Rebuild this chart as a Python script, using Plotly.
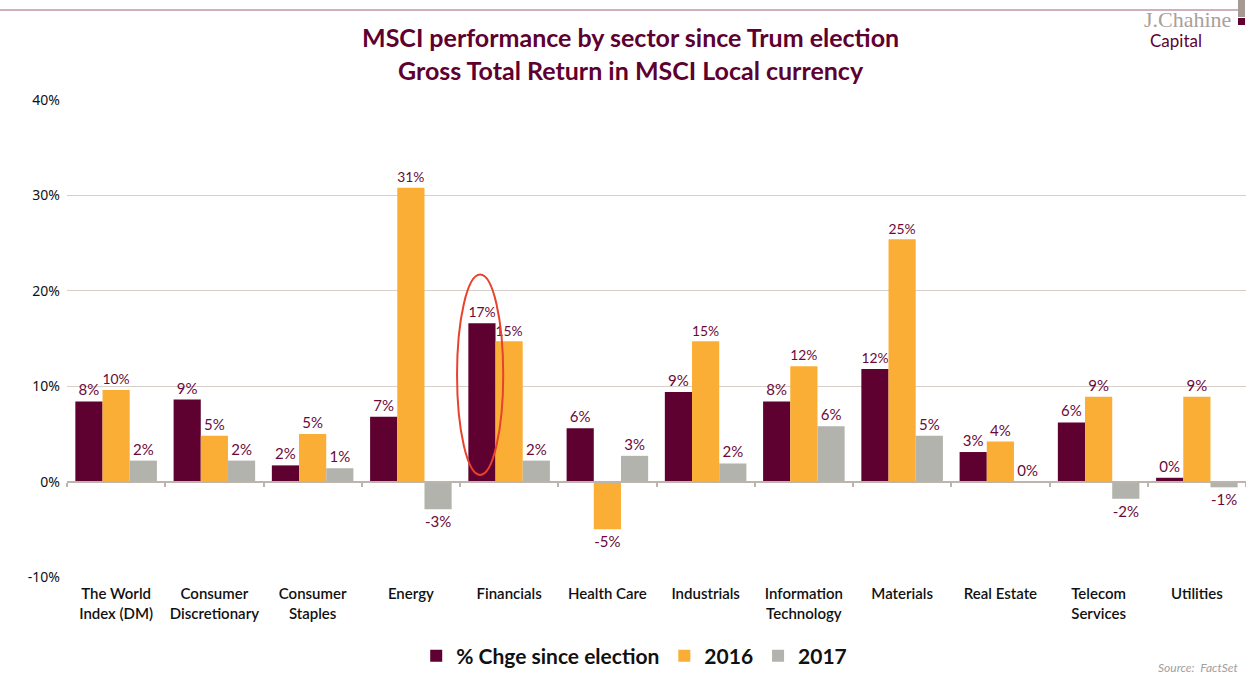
import plotly.graph_objects as go

categories = ["The World<br>Index (DM)", "Consumer<br>Discretionary", "Consumer<br>Staples", "Energy",
              "Financials", "Health Care", "Industrials", "Information<br>Technology", "Materials",
              "Real Estate", "Telecom<br>Services", "Utilities"]
chg_since_election = [8.4, 8.6, 1.7, 6.8, 16.6, 5.6, 9.4, 8.4, 11.8, 3.1, 6.2, 0.4]
y2016 = [9.6, 4.8, 5.0, 30.8, 14.7, -5.0, 14.7, 12.1, 25.4, 4.2, 8.9, 8.9]
y2017 = [2.2, 2.2, 1.4, -2.9, 2.2, 2.7, 1.9, 5.8, 4.8, 0.0, -1.8, -0.6]
y_ticks = [-10, 0, 10, 20, 30, 40]
y_tick_labels = ["-10%", "0%", "10%", "20%", "30%", "40%"]

MAROON = "#5E0030"
ORANGE = "#FBAE35"
GRAY = "#B3B3AD"
LABEL = "#6B0A3A"

W, H = 1246, 675
ML, MR, MT, MB = 67, 0, 100, 98
PW = W - ML - MR
PH = H - MT - MB


def px_x(px):
    return (px - ML) / PW


def px_y(py):
    return (H - MB - py) / PH


fig = go.Figure()
for name, vals, col in [("% Chge since election", chg_since_election, MAROON),
                        ("2016", y2016, ORANGE),
                        ("2017", y2017, GRAY)]:
    fig.add_trace(go.Bar(
        x=categories, y=vals, name=name, marker=dict(color=col, line=dict(width=0)),
        texttemplate="%{y:.0f}%", textposition="outside", cliponaxis=False,
        textfont=dict(family="Lato", size=15, color=LABEL),
    ))

# helper trace for zero-line axis with boundary ticks
fig.add_trace(go.Scatter(x=categories, y=[0] * len(categories), xaxis="x2", mode="markers",
                         marker=dict(opacity=0), showlegend=False, hoverinfo="skip"))

fig.update_layout(
    width=W, height=H,
    margin=dict(l=ML, r=MR, t=MT, b=MB),
    paper_bgcolor="white", plot_bgcolor="white",
    barmode="group", bargap=0.17, bargroupgap=0,
    font=dict(family="Lato", color="#222222"),
    xaxis=dict(type="category", range=[-0.5, 11.5], showgrid=False, showline=False, ticks="",
               tickfont=dict(family="Lato", size=15, color="#111111", weight=600), tickangle=0,
               ticklabelstandoff=6),
    xaxis2=dict(type="category", overlaying="x", anchor="free", position=0.2, range=[-0.5, 11.5],
                showline=True, linecolor="#BDB5AD", linewidth=2, ticks="outside", ticklen=4,
                tickcolor="#BDB5AD", tickwidth=2, tickson="boundaries", showticklabels=False,
                showgrid=False, side="bottom"),
    yaxis=dict(range=[-10, 40], tickvals=y_ticks, ticktext=y_tick_labels, showgrid=True,
               gridcolor="#D6CFCA", gridwidth=1, zeroline=False, showline=False,
               tickfont=dict(family="Noto Sans", size=14, color="#111111"), ticklabelstandoff=6),
    legend=dict(orientation="h", xref="container", yref="container", x=0.509, xanchor="center",
                y=1 - 656 / H, yanchor="middle", font=dict(family="Lato", size=21, color="#111111", weight="bold"),
                itemwidth=30, traceorder="normal"),
)

# title
fig.add_annotation(text="MSCI performance by sector since Trum election<br>Gross Total Return in MSCI Local currency",
                   xref="paper", yref="paper", x=px_x(630), y=px_y(20), xanchor="center", yanchor="top",
                   showarrow=False, align="center",
                   font=dict(family="Lato", size=25, color=MAROON, weight="bold"))

# red ellipse around Financials
fig.add_shape(type="circle", xref="x", yref="y", x0=4 - 0.53, x1=4 - 0.06, y0=0.7, y1=21.7,
              line=dict(color="#E8412C", width=2), fillcolor="rgba(0,0,0,0)")

# top rule line and logo
fig.add_shape(type="line", xref="paper", yref="paper", x0=px_x(0), x1=px_x(1238), y0=px_y(10), y1=px_y(10),
              line=dict(color="#A0607F", width=1))
fig.add_shape(type="rect", xref="paper", yref="paper", x0=px_x(1238), x1=px_x(1245), y0=px_y(17), y1=px_y(0),
              fillcolor="#A59A94", line=dict(width=0))
fig.add_shape(type="rect", xref="paper", yref="paper", x0=px_x(1238), x1=px_x(1245), y0=px_y(25), y1=px_y(18),
              fillcolor=MAROON, line=dict(width=0))
fig.add_annotation(text="J.Chahine", xref="paper", yref="paper", x=px_x(1233), y=px_y(20),
                   xanchor="right", yanchor="middle", showarrow=False,
                   font=dict(family="Liberation Serif", size=22, color="#A8A09B"))
fig.add_annotation(text="Capital", xref="paper", yref="paper", x=px_x(1176), y=px_y(41),
                   xanchor="center", yanchor="middle", showarrow=False,
                   font=dict(family="Lato", size=17, color=MAROON))
fig.add_annotation(text="<i>Source:  FactSet</i>", xref="paper", yref="paper", x=px_x(1240), y=px_y(667),
                   xanchor="right", yanchor="middle", showarrow=False,
                   font=dict(family="Lato", size=12, color="#A0A0A0"))

fig.write_html("out.html")
